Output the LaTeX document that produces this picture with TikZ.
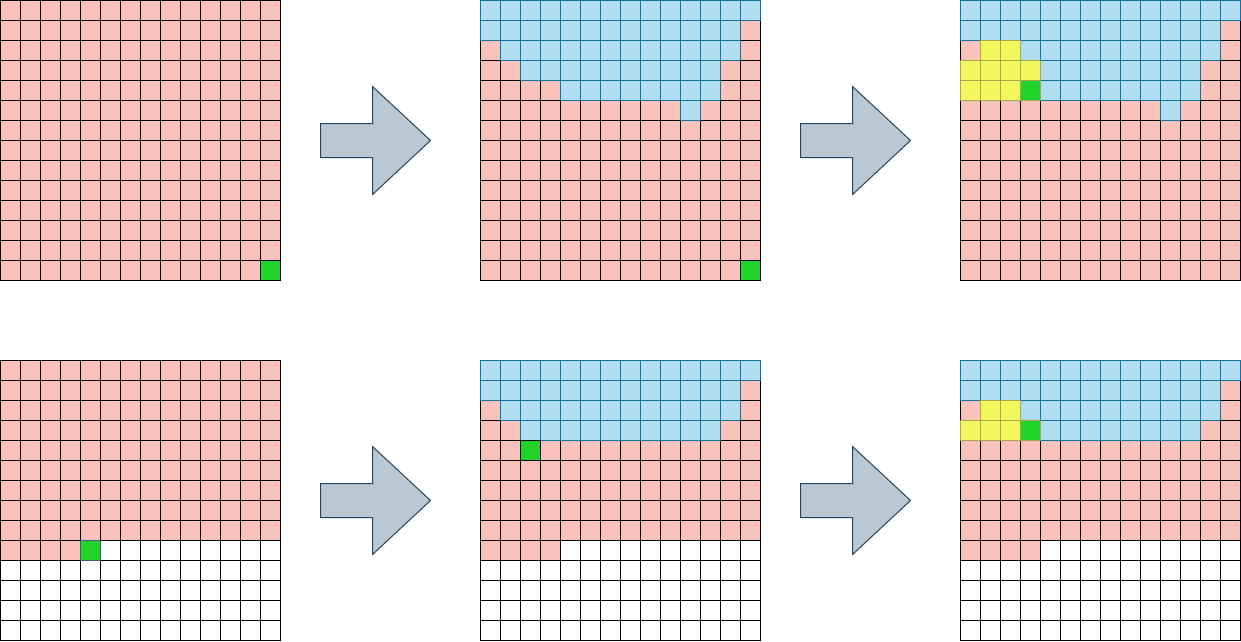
\documentclass[tikz,border=0pt]{standalone}
\usepackage{tikz}

\definecolor{cellred}{HTML}{F9C2BA}
\definecolor{cellblue}{HTML}{B1DDF0}
\definecolor{cellblueline}{HTML}{10739E}
\definecolor{cellyellow}{HTML}{F2F85E}
\definecolor{cellyellowline}{HTML}{A8A64C}
\definecolor{cellgreen}{HTML}{22D42A}
\definecolor{cellgreenline}{HTML}{3E5A7E}
\definecolor{arrowfill}{HTML}{BAC8D3}
\definecolor{arrowline}{HTML}{23445D}

\begin{document}
\begin{tikzpicture}[%
  x=1pt,
  y=-1pt,
  line width=1pt,
  redcell/.style={fill=cellred,draw=black},
  whitecell/.style={fill=white,draw=black},
  bluecell/.style={fill=cellblue,draw=cellblueline},
  yellowcell/.style={fill=cellyellow,draw=cellyellowline},
  greencell/.style={fill=cellgreen,draw=black},
  greenslatecell/.style={fill=cellgreen,draw=cellgreenline},
  greenolivecell/.style={fill=cellgreen,draw=cellyellowline},
  bigarrow/.style={
    fill=arrowfill,
    draw=arrowline,
    line join=miter,}
  ]
  \useasboundingbox (-0.5,-0.5) rectangle (1240.5,640.5);
  %% Grids
  \coordinate (A1) at (0,0);
  \coordinate (A2) at (480,0);
  \coordinate (A3) at (960,0);
  \coordinate (B1) at (0,360);
  \coordinate (B2) at (480,360);
  \coordinate (B3) at (960,360);
  \foreach \g in {A1,A2,A3,B1,B2,B3}
    \foreach \r in {0,...,13}
      \foreach \c in {0,...,13}
        \draw[redcell] ([shift={(\c*20,\r*20)}]\g) rectangle ++(20,20);
  %% Cells
  \foreach \g/\r/\a/\b/\s in {
      B1/9/4/13/whitecell, B1/10/0/13/whitecell, B1/11/0/13/whitecell,
      B1/12/0/13/whitecell, B1/13/0/13/whitecell,
      B2/9/4/13/whitecell, B2/10/0/13/whitecell, B2/11/0/13/whitecell,
      B2/12/0/13/whitecell, B2/13/0/13/whitecell,
      B3/9/4/13/whitecell, B3/10/0/13/whitecell, B3/11/0/13/whitecell,
      B3/12/0/13/whitecell, B3/13/0/13/whitecell,
      A2/0/0/13/bluecell, A2/1/0/12/bluecell, A2/2/1/12/bluecell,
      A2/3/2/11/bluecell, A2/4/4/11/bluecell, A2/5/10/10/bluecell,
      A3/0/0/13/bluecell, A3/1/0/12/bluecell, A3/2/1/12/bluecell,
      A3/3/2/11/bluecell, A3/4/4/11/bluecell, A3/5/10/10/bluecell,
      B2/0/0/13/bluecell, B2/1/0/12/bluecell, B2/2/1/12/bluecell,
      B2/3/2/11/bluecell,
      B3/0/0/13/bluecell, B3/1/0/12/bluecell, B3/2/1/12/bluecell,
      B3/3/2/11/bluecell,
      A3/2/1/2/yellowcell, A3/3/0/3/yellowcell, A3/4/0/2/yellowcell,
      B3/2/1/2/yellowcell, B3/3/0/2/yellowcell,
      A1/13/13/13/greencell, A2/13/13/13/greencell,
      A3/4/3/3/greenolivecell, B1/9/4/4/greenslatecell,
      B2/4/2/2/greencell, B3/3/3/3/greenolivecell}
    \foreach \c in {\a,...,\b}
      \draw[\s] ([shift={(\c*20,\r*20)}]\g) rectangle ++(20,20);
  %% Arrows
  \foreach \ax/\ay in {0/0,480/0,0/360,480/360}
    \draw[bigarrow, shift={(\ax,\ay)}] (320,123) -- (372,123) -- (372,86)
      -- (430,140) -- (372,194) -- (372,157) -- (320,157) -- cycle;
\end{tikzpicture}
\end{document}
